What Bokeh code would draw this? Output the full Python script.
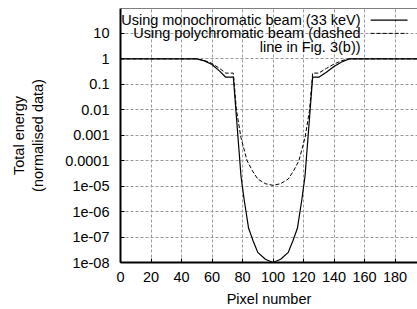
from bokeh.plotting import figure
from bokeh.models import Range1d, FixedTicker, Label, Arrow, Span
from bokeh.embed import file_html
from bokeh.resources import INLINE

# Monochromatic beam (33 keV) - solid line
mono_x = [0, 50, 55, 60, 65, 69, 74, 79, 81, 84, 87, 90, 95, 100,
          105, 110, 113, 116, 119, 121, 126, 130, 135, 140, 145, 150, 200]
mono_y = [1, 1, 0.83, 0.6, 0.33, 0.19, 0.19, 2.5e-5, 3.2e-6, 2.2e-7, 7e-8, 2.5e-8, 1.35e-8, 1e-8,
          1.35e-8, 2.5e-8, 7e-8, 2.2e-7, 3.2e-6, 2.5e-5, 0.19, 0.19, 0.3, 0.5, 0.75, 1, 1]

# Polychromatic beam (dashed line in Fig. 3(b))
poly_x = [0, 50, 55, 60, 65, 69, 74, 76, 79, 83, 86.5, 90, 95, 100,
          105, 110, 113.5, 117, 121, 124, 126, 130, 135, 140, 145, 150, 200]
poly_y = [1, 1, 0.87, 0.66, 0.42, 0.275, 0.275, 0.01, 8e-4, 1e-4, 4e-5, 1.9e-5, 1.25e-5, 1.07e-5,
          1.25e-5, 1.9e-5, 4e-5, 1e-4, 8e-4, 0.01, 0.275, 0.275, 0.42, 0.62, 0.85, 1, 1]

x_ticks = [0, 20, 40, 60, 80, 100, 120, 140, 160, 180]
y_ticks = [1e-8, 1e-7, 1e-6, 1e-5, 1e-4, 1e-3, 1e-2, 1e-1, 1, 10]
y_tick_labels = ["1e-08", "1e-07", "1e-06", "1e-05", "0.0001", "0.001", "0.01", "0.1", "1", "10"]

legend_mono = "Using monochromatic beam (33 keV)"
legend_poly = ["Using polychromatic beam (dashed", "line in Fig. 3(b))"]

FONT = "Liberation Sans"
FS = "14.5px"

p = figure(width=417, height=309, y_axis_type="log",
           x_range=Range1d(0, 194.75), y_range=Range1d(1e-8, 95),
           output_backend="svg", toolbar_location=None,
           min_border_left=120, min_border_right=0, min_border_top=8, min_border_bottom=46)
p.outline_line_color = None
p.background_fill_color = "white"
p.border_fill_color = "white"

p.line(mono_x, mono_y, line_color="black", line_width=1.2)
p.line(poly_x, poly_y, line_color="black", line_width=1, line_dash="4 2")

p.add_layout(Span(location=95, dimension="width", line_color="black", line_width=1))

for ax in (p.xaxis[0], p.yaxis[0]):
    ax.axis_line_width = 2
    ax.axis_line_color = "black"
    ax.major_tick_in = 4
    ax.major_tick_out = 0
    ax.major_tick_line_color = "black"
    ax.minor_tick_line_color = None
    ax.major_label_text_font = FONT
    ax.major_label_text_font_size = FS
    ax.major_label_text_color = "black"
    ax.axis_label_text_font = FONT
    ax.axis_label_text_font_size = FS
    ax.axis_label_text_font_style = "normal"
    ax.axis_label_text_color = "black"

p.xaxis.ticker = FixedTicker(ticks=x_ticks)
p.yaxis.ticker = FixedTicker(ticks=y_ticks)
p.yaxis.major_label_overrides = {t: l for t, l in zip(y_ticks, y_tick_labels)}
p.xaxis.axis_label = "Pixel number"
p.yaxis.axis_label = "Total energy\n(normalised data)"
p.xaxis.major_label_standoff = 9
p.xaxis.axis_label_standoff = 6
p.yaxis.major_label_standoff = 11
p.yaxis.axis_label_standoff = 16

p.xgrid.ticker = FixedTicker(ticks=x_ticks)
p.ygrid.ticker = FixedTicker(ticks=y_ticks)
for g in (p.xgrid[0], p.ygrid[0]):
    g.grid_line_color = "#9a9a9a"
    g.grid_line_dash = "3 2"
    g.grid_line_width = 1

# legend (gnuplot style: right-aligned text, sample on the right)
p.add_layout(Label(x=157.4, y=33, text=legend_mono, text_align="right", text_baseline="middle",
                   text_font=FONT, text_font_size=FS, text_color="black"))
p.add_layout(Label(x=157.4, y=10, text=legend_poly[0], text_align="right", text_baseline="middle",
                   text_font=FONT, text_font_size=FS, text_color="black"))
p.add_layout(Label(x=157.4, y=2.95, text=legend_poly[1], text_align="right", text_baseline="middle",
                   text_font=FONT, text_font_size=FS, text_color="black"))
p.add_layout(Arrow(x_start=164, y_start=33, x_end=188.2, y_end=33, end=None,
                   line_color="black", line_width=1.2))
p.add_layout(Arrow(x_start=164, y_start=10, x_end=188.2, y_end=10, end=None,
                   line_color="black", line_width=1, line_dash="4 2"))

open("out.html", "w").write(file_html(p, INLINE))
